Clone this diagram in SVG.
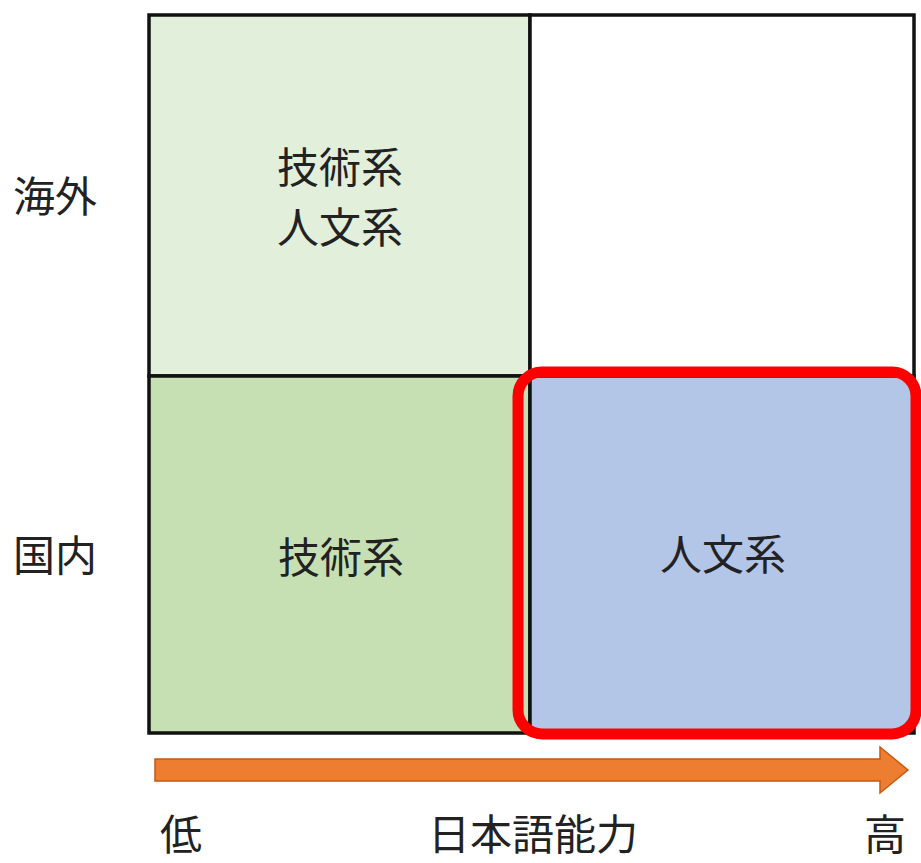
<svg xmlns="http://www.w3.org/2000/svg" width="921" height="863" viewBox="0 0 921 863">
<style>
.t{font-family:"Noto Sans CJK JP","Noto Sans CJK SC",sans-serif;font-size:42px;fill:#222;dominant-baseline:central}
.c{text-anchor:middle}
.cell{stroke:#111;stroke-width:3.5}
</style>
<rect width="921" height="863" fill="#fff"/>
<g id="cell-overseas-low">
<rect class="cell" x="149" y="15" width="381" height="361" fill="#E2EFDA"/>
<text class="t c" x="340" y="164">技術系</text>
<text class="t c" x="340" y="224">人文系</text>
</g>
<g id="cell-overseas-high">
<rect class="cell" x="530" y="15" width="384" height="361" fill="#fff"/>
</g>
<g id="cell-domestic-low">
<rect class="cell" x="149" y="376" width="381" height="357" fill="#C6E0B4"/>
<text class="t c" x="341" y="554">技術系</text>
</g>
<g id="cell-domestic-high">
<rect class="cell" x="530" y="376" width="384" height="357" fill="#B4C6E7"/>
<text class="t c" x="723" y="551">人文系</text>
</g>
<g id="highlight">
<rect x="518" y="372" width="398" height="362" rx="24" fill="none" stroke="#FF0000" stroke-width="11"/>
</g>
<g id="labels">
<text class="t" x="13" y="193">海外</text>
<text class="t" x="13" y="552">国内</text>
<text class="t" x="160" y="831">低</text>
<text class="t c" x="533" y="831">日本語能力</text>
<text class="t" x="864" y="831">高</text>
</g>
<g id="connectors">
<path d="M155,759 H880 V747 L908,770 L880,793 V781 H155 Z" fill="#ED7D31" stroke="#C55A11" stroke-width="1.5"/>
</g>
</svg>
